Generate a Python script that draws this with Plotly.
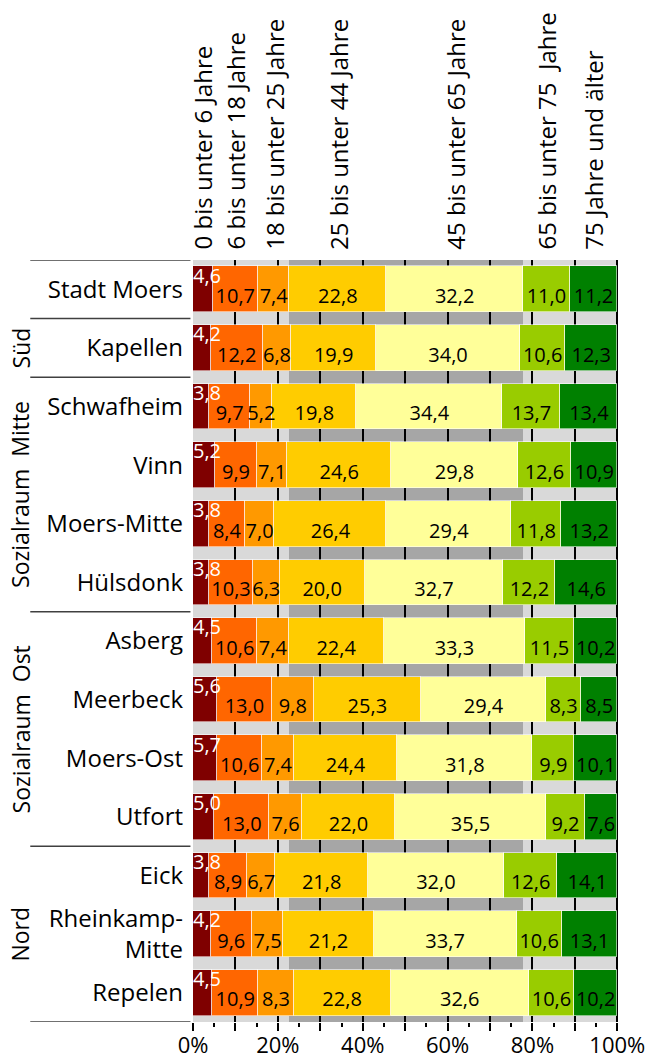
import plotly.graph_objects as go

# ---------------- data ----------------
districts = ["Stadt Moers", "Kapellen", "Schwafheim", "Vinn", "Moers-Mitte", "Hülsdonk",
             "Asberg", "Meerbeck", "Moers-Ost", "Utfort", "Eick", "Rheinkamp-Mitte", "Repelen"]
district_labels = ["Stadt Moers", "Kapellen", "Schwafheim", "Vinn", "Moers-Mitte", "Hülsdonk",
                   "Asberg", "Meerbeck", "Moers-Ost", "Utfort", "Eick", "Rheinkamp-<br>Mitte", "Repelen"]

age_groups = ["0 bis unter 6 Jahre", "6 bis unter 18 Jahre", "18 bis unter 25 Jahre",
              "25 bis unter 44 Jahre", "45 bis unter 65 Jahre", "65 bis unter 75\u00a0 Jahre",
              "75 Jahre und älter"]

a0_6 =    [4.6, 4.2, 3.8, 5.2, 3.8, 3.8, 4.5, 5.6, 5.7, 5.0, 3.8, 4.2, 4.5]
a6_18 =   [10.7, 12.2, 9.7, 9.9, 8.4, 10.3, 10.6, 13.0, 10.6, 13.0, 8.9, 9.6, 10.9]
a18_25 =  [7.4, 6.8, 5.2, 7.1, 7.0, 6.3, 7.4, 9.8, 7.4, 7.6, 6.7, 7.5, 8.3]
a25_44 =  [22.8, 19.9, 19.8, 24.6, 26.4, 20.0, 22.4, 25.3, 24.4, 22.0, 21.8, 21.2, 22.8]
a45_65 =  [32.2, 34.0, 34.4, 29.8, 29.4, 32.7, 33.3, 29.4, 31.8, 35.5, 32.0, 33.7, 32.6]
a65_75 =  [11.0, 10.6, 13.7, 12.6, 11.8, 12.2, 11.5, 8.3, 9.9, 9.2, 12.6, 10.6, 10.6]
a75p =    [11.2, 12.3, 13.4, 10.9, 13.2, 14.6, 10.2, 8.5, 10.1, 7.6, 14.1, 13.1, 10.2]

series = [a0_6, a6_18, a18_25, a25_44, a45_65, a65_75, a75p]
colors = ["#7F0000", "#FF6600", "#FF9900", "#FFCC00", "#FFFF99", "#99CC00", "#008000"]

groups = [("", 0, 0), ("Süd", 1, 1), ("Sozialraum\u00a0 Mitte", 2, 5),
          ("Sozialraum\u00a0 Ost", 6, 9), ("Nord", 10, 12)]

x_ticks = list(range(0, 101, 10))
x_ticktext = [f"{v}%" if v % 20 == 0 else "" for v in x_ticks]

FONT = "Open Sans"

# ---------------- helpers ----------------
n = len(districts)
rows = list(range(n))
totals = [sum(s[i] for s in series) for i in rows]
norm = [[s[i] / totals[i] * 100 for i in rows] for s in series]


def de(v):
    return f"{v:.1f}".replace(".", ",")


fig = go.Figure()

# background reference bands (city-wide shares: <25, 25-65, 65+)
ref = [norm[k][0] for k in range(len(series))]
bands = [sum(ref[0:3]), sum(ref[3:5]), sum(ref[5:7])]
band_colors = ["#D9D9D9", "#A6A6A6", "#D9D9D9"]
for b, c in zip(bands, band_colors):
    fig.add_trace(go.Bar(x=[b] * n, y=rows, orientation="h", width=1.0,
                         marker=dict(color=c, line=dict(width=0)),
                         xaxis="x", yaxis="y", hoverinfo="skip", showlegend=False))

# foreground stacked bars
for k, s in enumerate(series):
    fig.add_trace(go.Bar(x=norm[k], y=rows, orientation="h", width=0.78, name=age_groups[k],
                         marker=dict(color=colors[k], line=dict(color="rgba(255,255,255,0.55)", width=1)),
                         xaxis="x2", yaxis="y2", hoverinfo="skip", showlegend=False))

# data labels
cum = [[0.0] * n]
for k in range(len(series)):
    cum.append([cum[-1][i] + norm[k][i] for i in rows])

fig.add_trace(go.Scatter(x=[0] * n, y=[r - 0.2 for r in rows], mode="text",
                         text=[de(v) for v in series[0]], textposition="middle right",
                         textfont=dict(family=FONT, size=20, color="white"),
                         xaxis="x2", yaxis="y2", cliponaxis=False, hoverinfo="skip", showlegend=False))
for k in range(1, len(series)):
    mids = [(cum[k][i] + cum[k + 1][i]) / 2 for i in rows]
    fig.add_trace(go.Scatter(x=mids, y=[r + 0.15 for r in rows], mode="text",
                             text=[de(v) for v in series[k]], textposition="middle center",
                             textfont=dict(family=FONT, size=20, color="black"),
                             xaxis="x2", yaxis="y2", cliponaxis=False, hoverinfo="skip", showlegend=False))

# header labels at city-wide segment centres
for k in range(len(series)):
    mid = (cum[k][0] + cum[k + 1][0]) / 2
    fig.add_annotation(x=mid, xref="x2", y=1.011, yref="paper", text=age_groups[k],
                       textangle=-90, xanchor="center", yanchor="bottom", showarrow=False,
                       font=dict(family=FONT, size=24, color="black"))

# group labels and separators
bounds = set()
for name, r0, r1 in groups:
    bounds.add(r0 - 0.5)
    bounds.add(r1 + 0.5)
    if name:
        fig.add_annotation(x=-0.405, xref="paper", y=(r0 + r1) / 2, yref="y", text=name,
                           textangle=-90, xanchor="center", yanchor="middle", showarrow=False,
                           font=dict(family=FONT, size=23, color="black"))
for b in sorted(bounds):
    fig.add_shape(type="line", xref="paper", yref="y", x0=-0.382, x1=-0.006, y0=b, y1=b,
                  line=dict(color="#404040", width=1.5))

xr = [0, 100.4]
yr = [n - 0.5, -0.5]
fig.update_layout(
    width=651, height=1063,
    margin=dict(l=193, r=32, t=260, b=41, autoexpand=False),
    paper_bgcolor="white", plot_bgcolor="rgba(0,0,0,0)",
    barmode="stack", bargap=0, hovermode=False, showlegend=False,
    font=dict(family=FONT, size=22, color="black"),
    xaxis=dict(domain=[0, 1], range=xr, anchor="y", showgrid=False, zeroline=False,
               automargin=False,
               tickvals=x_ticks, ticktext=x_ticktext, ticks="outside", ticklen=8,
               tickwidth=1.5, tickcolor="black", showline=False, ticklabelstandoff=-4,
               tickfont=dict(family=FONT, size=22),
               minor=dict(dtick=5, ticks="outside", ticklen=4, tickwidth=1.5,
                          tickcolor="black", showgrid=False)),
    yaxis=dict(domain=[0, 1], range=yr, anchor="x", showgrid=False, zeroline=False,
               automargin=False,
               tickvals=rows, ticktext=district_labels, ticks="", showline=False,
               ticklabelstandoff=9, tickfont=dict(family=FONT, size=24)),
    xaxis2=dict(domain=[0, 1], range=xr, anchor="y2", showgrid=True, gridcolor="black",
                automargin=False,
                gridwidth=1.5, tickvals=x_ticks[1:], showticklabels=False, ticks="",
                zeroline=False, showline=False),
    yaxis2=dict(domain=[0, 1], range=yr, anchor="x2", showgrid=False, zeroline=False,
                automargin=False,
                showticklabels=False, ticks="", showline=False),
)

fig.write_html("out.html", config={"displayModeBar": False},
               post_script="document.body.style.margin='0';")
